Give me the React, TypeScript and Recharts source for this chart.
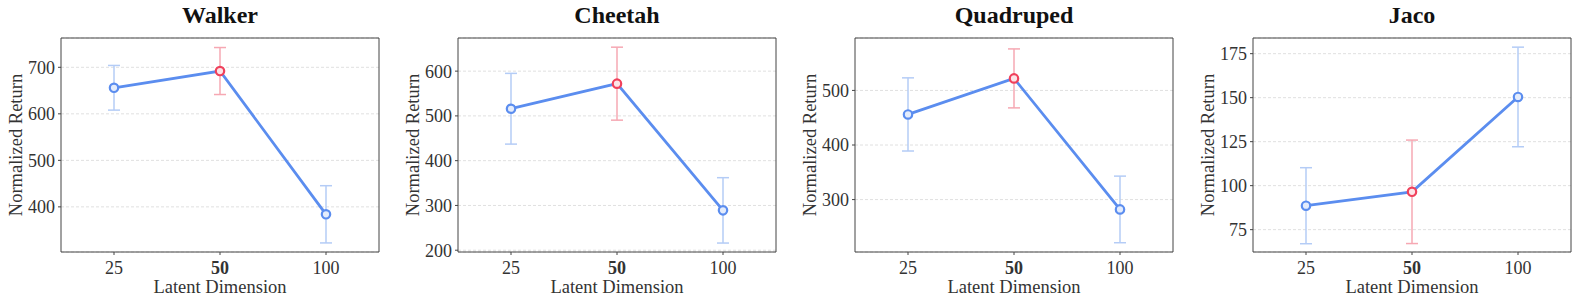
import React from 'react';
import {
  ComposedChart,
  Line,
  Scatter,
  ErrorBar,
  XAxis,
  YAxis,
  CartesianGrid,
  ReferenceArea,
} from 'recharts';

const latentDims = ['25', '50', '100'];
const bestIndex = 1;

const walkerMean = [656, 692, 384];
const walkerErr = [48, 50.5, 61.5];
const cheetahMean = [516, 572, 289];
const cheetahErr = [79, 81.5, 73];
const quadrupedMean = [456, 522, 282];
const quadrupedErr = [67, 54, 61];
const jacoMean = [88.6, 96.5, 150.4];
const jacoErr = [21.6, 29.4, 28.3];

const titles = ['Walker', 'Cheetah', 'Quadruped', 'Jaco'];
const means = [walkerMean, cheetahMean, quadrupedMean, jacoMean];
const errs = [walkerErr, cheetahErr, quadrupedErr, jacoErr];
const yDomains: [number, number][] = [
  [303, 763],
  [196, 674],
  [204, 596],
  [62.3, 183.9],
];
const yTicks = [
  [400, 500, 600, 700],
  [200, 300, 400, 500, 600],
  [300, 400, 500],
  [75, 100, 125, 150, 175],
];

const panelLeft = [61, 458, 855, 1253];
const plotWidth = 318;
const axisW = 60;
const FONT = '"Liberation Serif", "Times New Roman", serif';

const BLUE = '#5b8def';
const RED = '#f0415c';
const LIGHT_BLUE = '#b4ccf6';
const LIGHT_RED = '#f6a8b3';

const XTick = (props: any) => {
  const { x, y, payload } = props;
  const idx = payload.value as number;
  return (
    <text
      x={x}
      y={y}
      dy="0.71em"
      textAnchor="middle"
      fontFamily={FONT}
      fontSize={18}
      fill="#333"
      fontWeight={idx === bestIndex ? 'bold' : 'normal'}
    >
      {latentDims[idx]}
    </text>
  );
};

const renderDot = (props: any) => {
  const { cx, cy, index } = props;
  const red = index === bestIndex;
  return (
    <circle
      key={`d${index}`}
      cx={cx}
      cy={cy}
      r={4.2}
      fill={red ? '#fce4e8' : '#e4ecfc'}
      stroke={red ? RED : BLUE}
      strokeWidth={2.2}
    />
  );
};

const Panel = ({ i }: { i: number }) => {
  const data = latentDims.map((_, k) => ({ x: k, y: means[i][k], err: errs[i][k] }));
  const blueData = data.filter((_, k) => k !== bestIndex);
  const redData = data.filter((_, k) => k === bestIndex);
  const dom = yDomains[i];
  return (
    <div style={{ position: 'absolute', left: panelLeft[i] - axisW, top: 0 }}>
      <ComposedChart
        width={axisW + plotWidth + 4}
        height={304}
        data={data}
        margin={{ top: 38, right: 4, bottom: 0, left: 0 }}
      >
        <CartesianGrid vertical={false} stroke="#e0e0e0" strokeDasharray="3 2" />
        <XAxis
          dataKey="x"
          type="number"
          domain={[-0.5, 2.5]}
          ticks={[0, 1, 2]}
          allowDataOverflow
          height={52}
          axisLine={false}
          tickLine={{ stroke: '#444' }}
          tickSize={3}
          tickMargin={6}
          tick={<XTick />}
          label={{
            value: 'Latent Dimension',
            position: 'insideBottom',
            offset: 11,
            style: { fontFamily: FONT, fontSize: 18.5, fill: '#333' },
          }}
        />
        <YAxis
          type="number"
          domain={dom}
          ticks={yTicks[i]}
          allowDataOverflow
          width={axisW}
          axisLine={false}
          tickLine={{ stroke: '#444' }}
          tickSize={3}
          tickMargin={3}
          tick={{ fontFamily: FONT, fontSize: 18, fill: '#333' }}
          label={{
            value: 'Normalized Return',
            angle: -90,
            position: 'insideLeft',
            offset: 14,
            style: { textAnchor: 'middle', fontFamily: FONT, fontSize: 18.5, fill: '#333' },
          }}
        />
        <ReferenceArea
          x1={-0.5}
          x2={2.5}
          y1={dom[0]}
          y2={dom[1]}
          fill="none"
          stroke="#444"
          strokeWidth={1}
          ifOverflow="visible"
        />
        <Scatter data={blueData} dataKey="y" shape={() => <g />} isAnimationActive={false}>
          <ErrorBar dataKey="err" direction="y" width={6} stroke={LIGHT_BLUE} strokeWidth={1.5} />
        </Scatter>
        <Scatter data={redData} dataKey="y" shape={() => <g />} isAnimationActive={false}>
          <ErrorBar dataKey="err" direction="y" width={6} stroke={LIGHT_RED} strokeWidth={1.5} />
        </Scatter>
        <Line
          dataKey="y"
          stroke={BLUE}
          strokeWidth={2.8}
          dot={renderDot}
          activeDot={false}
          isAnimationActive={false}
        />
      </ComposedChart>
      <div
        style={{
          position: 'absolute',
          left: axisW,
          top: 0,
          width: plotWidth,
          textAlign: 'center',
          fontFamily: FONT,
          fontWeight: 'bold',
          fontSize: 24,
          lineHeight: '30px',
          color: '#111',
        }}
      >
        {titles[i]}
      </div>
    </div>
  );
};

export default function App() {
  return (
    <div style={{ position: 'absolute', left: 0, top: 0, width: 1578, height: 304, background: '#fff' }}>
      {titles.map((_, i) => (
        <Panel key={i} i={i} />
      ))}
    </div>
  );
}
